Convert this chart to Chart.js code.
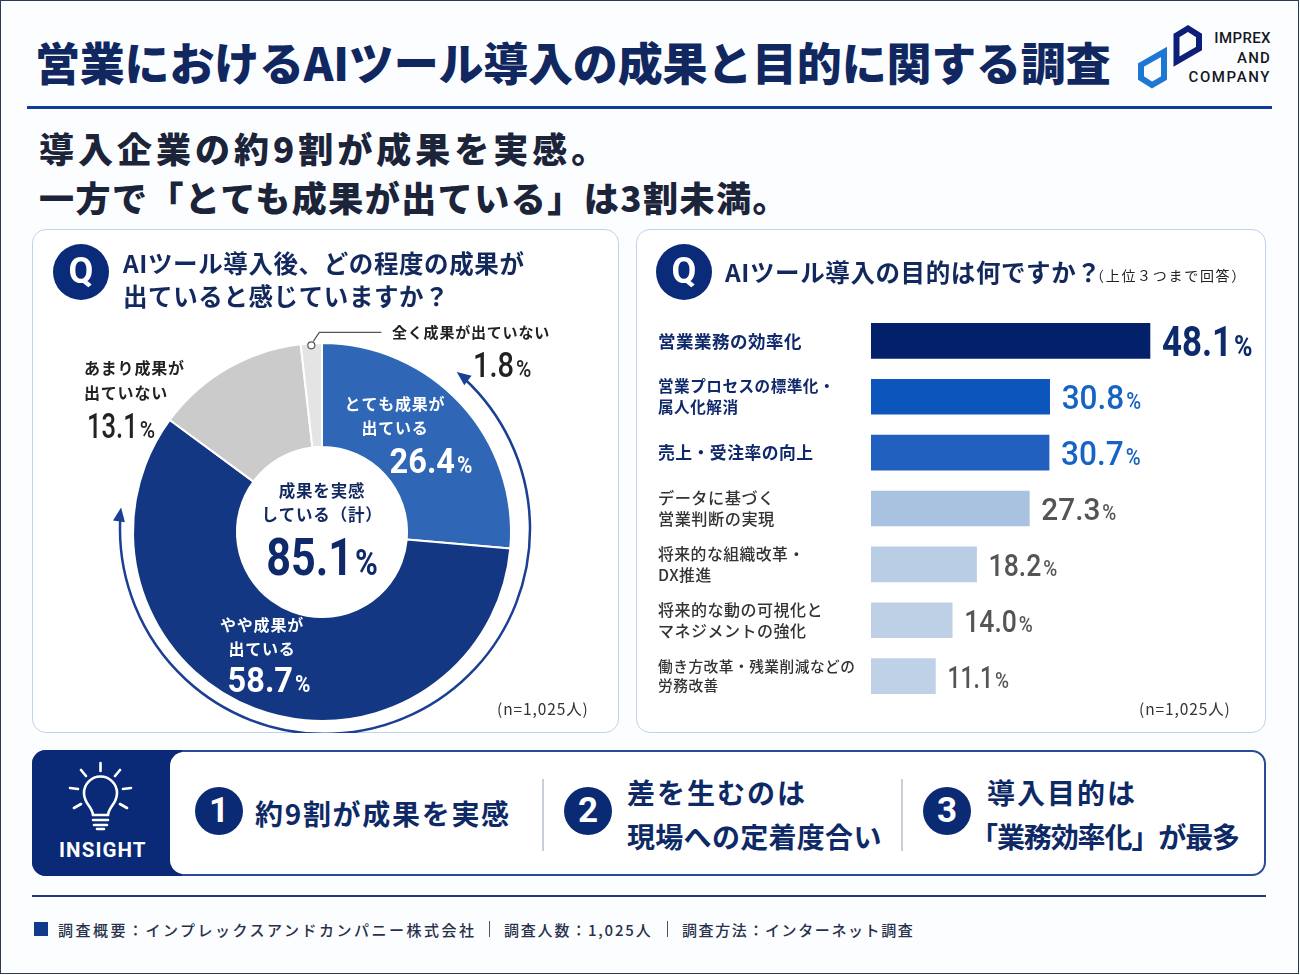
<!DOCTYPE html>
<html lang="ja">
<head>
<meta charset="utf-8">
<title>営業におけるAIツール導入の成果と目的に関する調査</title>
<script src="https://cdn.jsdelivr.net/npm/chart.js@4"></script>
<style>
html, body { margin: 0; padding: 0; }
body { position: relative; width: 1300px; height: 975px; overflow: hidden; background: #fcfdff;
  font-family: "Noto Sans CJK JP", "Noto Sans", sans-serif; color: #14213f; }
#frame { position: absolute; left: 0; top: 0; width: 1297px; height: 972px; border: 1.5px solid #2c3a52; }
.t { position: absolute; white-space: nowrap; transform: translateY(-50%); line-height: 1; }
.box { position: absolute; box-sizing: border-box; }
.card { border: 1.5px solid #bfd2f0; border-radius: 14px; background: #fff; }
.q { position: absolute; width: 56px; height: 56px; border-radius: 50%; background: #0a2a7a; color: #fff;
  font: 700 36px/54px "Roboto", sans-serif; text-align: center; }
.num { position: absolute; width: 48px; height: 48px; border-radius: 50%; background: #0a2a74; color: #fff;
  font: 700 35px/47px "Roboto", sans-serif; text-align: center; }
.qt { font-size: 24.5px; font-weight: 700; color: #13295e; letter-spacing: 0.6px; }
.ins { font-size: 28px; font-weight: 700; color: #0e2a66; letter-spacing: 1.7px; }
.nn { font-size: 15.5px; color: #333; letter-spacing: 0.9px; }
.foot { font-size: 15px; font-weight: 500; color: #27324a; letter-spacing: 2.5px; }
.lg { right: 29px; font: 500 15px Roboto; color: #15181f; }
canvas { position: absolute; }
</style>
</head>
<body>
<div id="frame"></div>

<div class="t" style="left:35px;top:61px;font-size:45px;font-weight:900;color:#10285f;letter-spacing:-0.2px">営業におけるAIツール導入の成果と目的に関する調査</div>
<div class="box" style="left:27px;top:106px;width:1245px;height:2.5px;background:#123c9c"></div>

<svg class="box" style="left:1130px;top:18px" width="80" height="76" viewBox="1130 18 80 76">
  <polygon points="1176.5,35.5 1188,28.5 1199,35.5 1199,48.5 1176.5,61.5" fill="none" stroke="#0d1f78" stroke-width="6"/>
  <polygon points="1141,65 1164,52 1164,78 1152,85 1141,78" fill="none" stroke="#1f77d4" stroke-width="6"/>
</svg>
<div class="t lg" style="top:38px;letter-spacing:.4px">IMPREX</div>
<div class="t lg" style="top:58px;letter-spacing:1.2px">AND</div>
<div class="t lg" style="top:77px;letter-spacing:1.6px">COMPANY</div>

<div class="t" style="left:39px;top:147px;font-size:35px;font-weight:900;color:#1b2438;letter-spacing:4px">導入企業の約9割が成果を実感。</div>
<div class="t" style="left:39px;top:196px;font-size:35px;font-weight:900;color:#1b2438;letter-spacing:1.5px">一方で「とても成果が出ている」は3割未満。</div>

<div class="box card" style="left:32px;top:229px;width:587px;height:504px"></div>
<div class="box card" style="left:636px;top:229px;width:630px;height:504px"></div>

<canvas id="resultChart" style="left:32px;top:229px"></canvas>
<canvas id="purposeChart" style="left:636px;top:229px"></canvas>

<div class="q" style="left:53px;top:244px">Q</div>
<div class="t qt" style="left:123px;top:263px">AIツール導入後、どの程度の成果が</div>
<div class="t qt" style="left:123px;top:296px">出ていると感じていますか？</div>
<div class="t nn" style="left:497px;top:709px">(n=1,025人)</div>

<div class="q" style="left:656px;top:244px">Q</div>
<div class="t qt" style="left:725px;top:272px">AIツール導入の目的は何ですか？</div>
<div class="t" style="left:1090px;top:275px;font-size:14px;color:#222;letter-spacing:1.7px">（上位３つまで回答）</div>
<div class="t nn" style="left:1139px;top:709px">(n=1,025人)</div>

<div class="box" style="left:32px;top:750px;width:1234px;height:126px;border:2px solid #2a4a9a;border-radius:14px;background:#fff"></div>
<div class="box" style="left:32px;top:750px;width:150px;height:126px;background:#0a2a78;border-radius:14px 0 0 14px"></div>
<div class="box" style="left:170px;top:752px;width:30px;height:122px;background:#fff;border-radius:14px 0 0 14px"></div>
<svg class="box" style="left:62px;top:758px" width="78" height="74" viewBox="62 758 78 74" fill="none" stroke="#fff" stroke-width="2.6" stroke-linecap="round">
  <path d="M93 815 C92 806 84 804 84 793 A16.5 16.5 0 1 1 117 793 C117 804 109 806 108 815 Z"/>
  <path d="M93 820 H108 M94 825 H107 M97 829 H104" stroke-width="2.6"/>
  <path d="M100.5 763 V771 M81 770 L86 776 M120 770 L115 776 M70 788 L78 789 M131 788 L123 789 M74 808 L81 804 M127 808 L120 804"/>
</svg>
<div class="t" style="left:59px;top:850px;font:700 20.5px Roboto;color:#fff;letter-spacing:1.1px">INSIGHT</div>

<div class="num" style="left:195px;top:787px">1</div>
<div class="t ins" style="left:255px;top:813px">約9割が成果を実感</div>
<div class="box" style="left:542px;top:779px;width:1.5px;height:72px;background:#c9d0d9"></div>
<div class="num" style="left:564px;top:787px">2</div>
<div class="t ins" style="left:627px;top:792px;letter-spacing:2px">差を生むのは</div>
<div class="t ins" style="left:627px;top:836px;letter-spacing:.3px">現場への定着度合い</div>
<div class="box" style="left:901px;top:779px;width:1.5px;height:72px;background:#c9d0d9"></div>
<div class="num" style="left:923px;top:787px">3</div>
<div class="t ins" style="left:987px;top:792px;letter-spacing:2px">導入目的は</div>
<div class="t ins" style="left:970px;top:836px;letter-spacing:-1.1px">「業務効率化」が最多</div>

<div class="box" style="left:32px;top:895px;width:1234px;height:1.5px;background:#1c3a8a"></div>
<div class="box" style="left:34px;top:922px;width:14px;height:14px;background:#123a8c"></div>
<div class="t foot" style="left:58px;top:929px">調査概要：インプレックスアンドカンパニー株式会社</div>
<div class="box" style="left:489px;top:921px;width:1px;height:16px;background:#555"></div>
<div class="t foot" style="left:504px;top:929px;letter-spacing:1.8px">調査人数：1,025人</div>
<div class="box" style="left:667px;top:921px;width:1px;height:16px;background:#555"></div>
<div class="t foot" style="left:682px;top:929px;letter-spacing:1.6px">調査方法：インターネット調査</div>

<script>
var resultLabels = ['とても成果が出ている', 'やや成果が出ている', 'あまり成果が出ていない', '全く成果が出ていない'];
var resultValues = [26.4, 58.7, 13.1, 1.8];
var resultTotal = 85.1;

var purposeLabels = [
    ['営業業務の効率化'],
    ['営業プロセスの標準化・', '属人化解消'],
    ['売上・受注率の向上'],
    ['データに基づく', '営業判断の実現'],
    ['将来的な組織改革・', 'DX推進'],
    ['将来的な動の可視化と', 'マネジメントの強化'],
    ['働き方改革・残業削減などの', '労務改善']
];
var purposeValues = [48.1, 30.8, 30.7, 27.3, 18.2, 14.0, 11.1];

var resultColors = ['#2f66b6', '#133782', '#cbcbcb', '#e4e4e4'];
var barColors = ['#03206b', '#0b55bd', '#2260bf', '#a9c2e0', '#b9cde5', '#bdd0e6', '#bfd1e6'];
var valueColors = ['#0d2a6b', '#1763c4', '#1763c4', '#555555', '#555555', '#555555', '#555555'];
var tickSizes = [17.5, 15.6, 16.8, 16.2, 15.8, 16, 14.7];

var jpFont = '"Noto Sans CJK JP", sans-serif';
var numFont = 'Roboto, sans-serif';

function setupCanvas(id, w, h) {
    var c = document.getElementById(id);
    c.width = w;
    c.height = h;
    c.style.width = w + 'px';
    c.style.height = h + 'px';
    return c.getContext('2d');
}

// big number followed by a small percent sign, squeezed to look like a condensed face
function drawValue(ctx, value, x, y, size, color, align, weight) {
    var text = value.toFixed(1);
    var ones = text.split('1').length - 1;
    var squeeze = Math.max(0.72, 0.93 - 0.1 * ones);
    var pct = size * 0.7;
    var wt = weight || '500';
    ctx.save();
    ctx.letterSpacing = '0px';
    ctx.fillStyle = color;
    ctx.textBaseline = 'alphabetic';
    ctx.textAlign = 'left';
    ctx.font = wt + ' ' + size + 'px ' + numFont;
    var w1 = ctx.measureText(text).width * squeeze;
    ctx.font = wt + ' ' + pct + 'px ' + numFont;
    var w2 = ctx.measureText('%').width * 0.85;
    var left = align === 'center' ? x - (w1 + w2 + 2) / 2 : x;
    var base = y + size * 0.36;
    ctx.save();
    ctx.translate(left, base);
    ctx.scale(squeeze, 1);
    ctx.font = wt + ' ' + size + 'px ' + numFont;
    ctx.fillText(text, 0, 0);
    ctx.restore();
    ctx.translate(left + w1 + 2, base);
    ctx.scale(0.85, 1);
    ctx.font = wt + ' ' + pct + 'px ' + numFont;
    ctx.fillText('%', 0, 0);
    ctx.restore();
}

function drawLines(ctx, lines, x, firstY, gap, color, align, size) {
    ctx.save();
    ctx.font = '700 ' + (size || 16) + 'px ' + jpFont;
    ctx.letterSpacing = '0.8px';
    ctx.fillStyle = color;
    ctx.textAlign = align;
    ctx.textBaseline = 'middle';
    lines.forEach(function (line, i) {
        ctx.fillText(line, x, firstY + i * gap);
    });
    ctx.restore();
}

function arrowHead(ctx, x, y, angle) {
    ctx.save();
    ctx.translate(x, y);
    ctx.rotate(angle);
    ctx.beginPath();
    ctx.moveTo(0, 0);
    ctx.lineTo(-14, -6);
    ctx.lineTo(-14, 6);
    ctx.closePath();
    ctx.fill();
    ctx.restore();
}

var resultLabelsPlugin = {
    id: 'resultLabelsPlugin',
    afterDraw: function (chart) {
        var ctx = chart.ctx;
        var arcs = chart.getDatasetMeta(0).data;
        var cx = arcs[0].x, cy = arcs[0].y, outer = arcs[0].outerRadius;

        // bracket arrow round the "positive" slices
        var r = outer + 16, ax = cx + 3, ay = cy - 3;
        var a0 = -50 * Math.PI / 180, a1 = 186 * Math.PI / 180;
        ctx.save();
        ctx.strokeStyle = '#1a3f94';
        ctx.fillStyle = '#1a3f94';
        ctx.lineWidth = 2.5;
        ctx.beginPath();
        ctx.arc(ax, ay, r, a0 + 0.05, a1 - 0.05);
        ctx.stroke();
        arrowHead(ctx, ax + Math.cos(a0) * r, ay + Math.sin(a0) * r, a0 - Math.PI / 2 - 0.05);
        arrowHead(ctx, ax + Math.cos(a1) * r, ay + Math.sin(a1) * r, a1 + Math.PI / 2 + 0.05);
        ctx.restore();

        // leader for the smallest slice
        var small = arcs[3];
        var mid = (small.startAngle + small.endAngle) / 2;
        var px = cx + Math.cos(mid) * outer, py = cy + Math.sin(mid) * outer + 2;
        ctx.save();
        ctx.strokeStyle = '#555';
        ctx.lineWidth = 1.2;
        ctx.beginPath();
        ctx.moveTo(px + 2, py - 4);
        ctx.lineTo(px + 8, py - 13);
        ctx.lineTo(px + 70, py - 13);
        ctx.stroke();
        ctx.fillStyle = '#fff';
        ctx.beginPath();
        ctx.arc(px, py, 3.5, 0, Math.PI * 2);
        ctx.fill();
        ctx.stroke();
        ctx.restore();

        // slice labels
        drawLines(ctx, ['とても成果が', '出ている'], cx + 73, cy - 128, 24, '#fff', 'center');
        drawValue(ctx, resultValues[0], cx + 109, cy - 72, 35, '#fff', 'center', '700');
        drawLines(ctx, ['やや成果が', '出ている'], cx - 60, cy + 93, 24, '#fff', 'center');
        drawValue(ctx, resultValues[1], cx - 53, cy + 147, 35, '#fff', 'center', '700');
        drawLines(ctx, ['あまり成果が', '出ていない'], cx - 238, cy - 164, 25, '#222', 'left', 16);
        drawValue(ctx, resultValues[2], cx - 235, cy - 107, 35, '#222', 'left');
        drawLines(ctx, ['全く成果が出ていない'], cx + 70, cy - 200, 24, '#222', 'left', 15);
        drawValue(ctx, resultValues[3], cx + 151, cy - 168, 35, '#222', 'left');

        // centre of the ring
        drawLines(ctx, ['成果を実感', 'している（計）'], cx, cy - 41, 24, '#12295f', 'center', 16.5);
        drawValue(ctx, resultTotal, cx, cy + 24, 52, '#0f2a6b', 'center', '700');
    }
};

new Chart(setupCanvas('resultChart', 587, 504), {
    type: 'doughnut',
    data: {
        labels: resultLabels,
        datasets: [{
            data: resultValues,
            backgroundColor: resultColors,
            borderColor: '#fff',
            borderWidth: 2
        }]
    },
    options: {
        responsive: false,
        animation: false,
        cutout: '45%',
        layout: { padding: { left: 99, right: 106, top: 113, bottom: 11 } },
        plugins: { legend: { display: false }, tooltip: { enabled: false } }
    },
    plugins: [resultLabelsPlugin]
});

var purposeLabelsPlugin = {
    id: 'purposeLabelsPlugin',
    beforeDraw: function (chart) {
        chart.ctx.letterSpacing = '0.5px';
    },
    afterDatasetsDraw: function (chart) {
        var x = chart.scales.x, y = chart.scales.y;
        purposeValues.forEach(function (v, i) {
            var size = i === 0 ? 42 : (i < 3 ? 34 : 32);
            drawValue(chart.ctx, v, x.getPixelForValue(v) + 12, y.getPixelForValue(i), size, valueColors[i], 'left', i === 0 ? '700' : '500');
        });
    }
};

new Chart(setupCanvas('purposeChart', 630, 504), {
    type: 'bar',
    data: {
        labels: purposeLabels,
        datasets: [{
            data: purposeValues,
            backgroundColor: barColors,
            barThickness: 35
        }]
    },
    options: {
        indexAxis: 'y',
        responsive: false,
        animation: false,
        layout: { padding: { left: 22, right: 47, top: 84, bottom: 29 } },
        scales: {
            x: { display: false, min: 0, max: 60 },
            y: {
                afterFit: function (scale) { scale.width = 213; },
                border: { display: false },
                grid: { display: false },
                ticks: {
                    crossAlign: 'far',
                    padding: 0,
                    autoSkip: false,
                    color: function (c) { return c.index < 3 ? '#10296a' : '#333333'; },
                    font: function (c) {
                        return { family: jpFont, size: tickSizes[c.index], weight: c.index < 3 ? '700' : '500', lineHeight: 1.32 };
                    }
                }
            }
        },
        plugins: { legend: { display: false }, tooltip: { enabled: false } }
    },
    plugins: [purposeLabelsPlugin]
});
</script>
</body>
</html>
